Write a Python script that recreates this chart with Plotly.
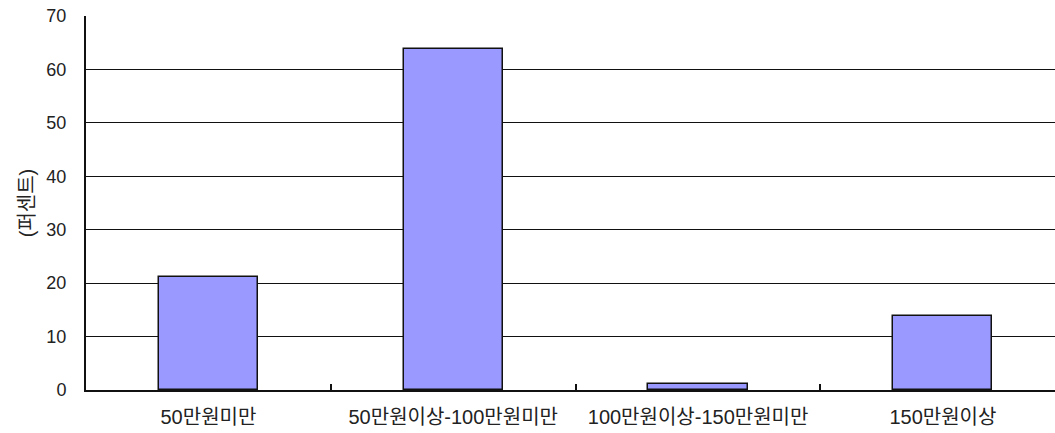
import plotly.graph_objects as go

# Monthly income groups and their share (percent)
categories = ["50만원미만", "50만원이상-100만원미만", "100만원이상-150만원미만", "150만원이상"]
percent = [21.1, 63.8, 1.1, 13.8]
y_ticks = [0, 10, 20, 30, 40, 50, 60, 70]

font_family = "Liberation Sans, Noto Sans CJK KR, sans-serif"

fig = go.Figure(
    go.Bar(
        x=categories,
        y=percent,
        width=0.405,
        marker=dict(color="#9999FF", line=dict(color="#111111", width=1.5)),
    )
)

fig.update_layout(
    width=1055,
    height=433,
    margin=dict(l=86, r=0, t=16, b=43),
    paper_bgcolor="white",
    plot_bgcolor="white",
    showlegend=False,
    font=dict(family=font_family, size=18, color="#222222"),
    bargap=0,
)

fig.update_xaxes(
    type="category",
    range=[-0.5, 3.458],
    showline=True,
    linecolor="#111111",
    linewidth=2,
    ticks="inside",
    tickson="boundaries",
    ticklen=6,
    tickcolor="#111111",
    tickwidth=1.5,
    showgrid=False,
    ticklabelstandoff=8,
    tickfont=dict(size=20),
)

fig.update_yaxes(
    range=[0, 70],
    tickvals=y_ticks,
    showline=True,
    linecolor="#111111",
    linewidth=2,
    showgrid=True,
    gridcolor="#111111",
    gridwidth=1,
    zeroline=False,
    ticks="",
    ticklabelstandoff=14,
    tickfont=dict(size=18),
    title=dict(text="(퍼센트)", font=dict(size=20), standoff=6),
)

fig.write_html("out.html")
